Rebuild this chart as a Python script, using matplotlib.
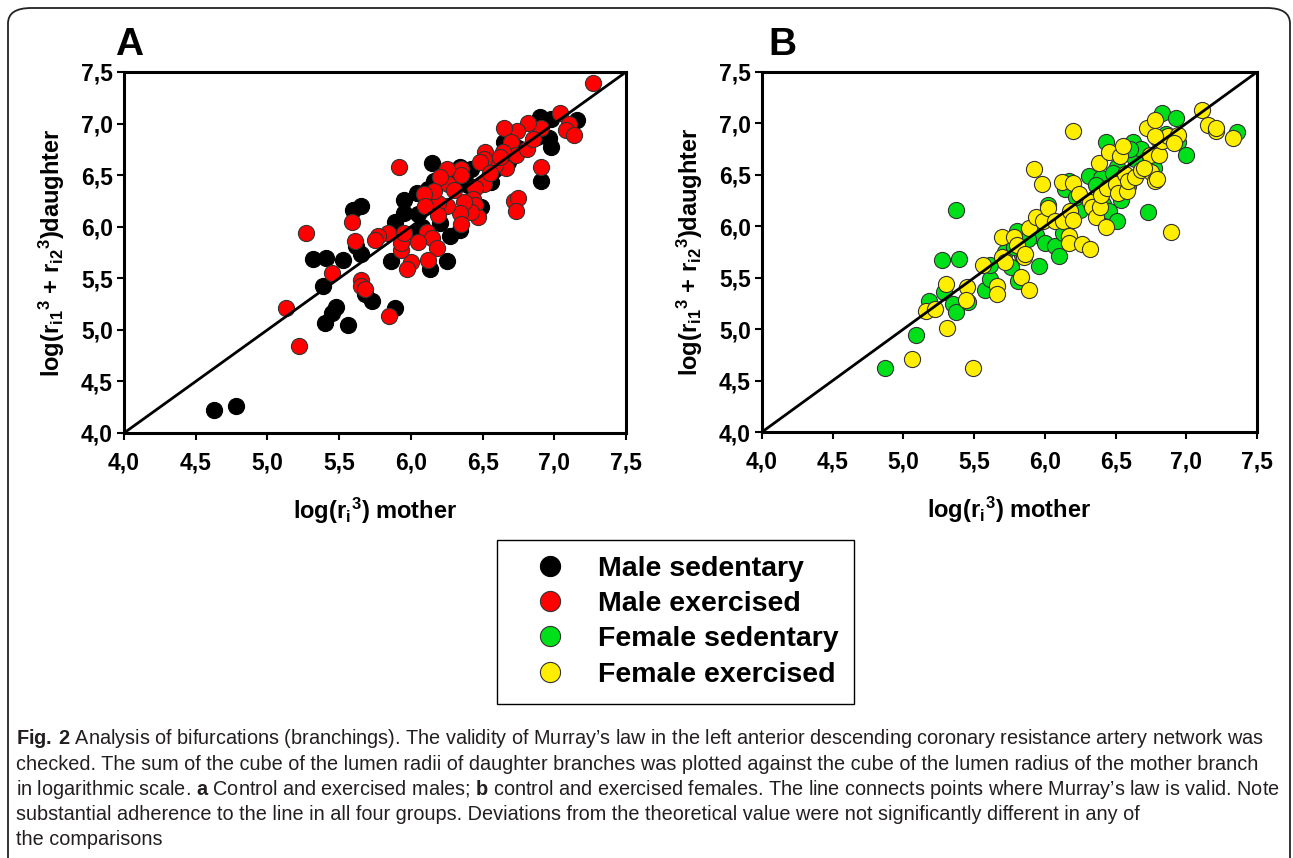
import matplotlib
matplotlib.use("Agg")
import matplotlib.pyplot as plt
from matplotlib.lines import Line2D
from matplotlib.patches import FancyBboxPatch
from matplotlib.ticker import FixedLocator, FuncFormatter

# panel A: males
male_sed_x = [4.63, 4.78, 5.32, 5.41, 5.39, 5.40, 5.45, 5.48, 5.56, 5.53, 5.60, 5.65, 5.62, 5.65,
              5.68, 5.73, 5.86, 5.89, 5.89, 5.95, 5.95, 6.03, 6.04, 6.05, 6.12, 6.13, 6.15, 6.20,
              6.16, 6.27, 6.25, 6.32, 6.34, 6.34, 6.42, 6.49, 6.56, 6.65, 6.68, 6.75, 6.90, 6.88,
              6.91, 6.98, 6.98, 6.96, 7.16, 6.08, 6.40, 6.58]
male_sed_y = [4.22, 4.26, 5.69, 5.70, 5.43, 5.07, 5.16, 5.22, 5.05, 5.68, 6.16, 6.20, 5.81, 5.74,
              5.35, 5.28, 5.67, 5.21, 6.05, 6.13, 6.26, 5.94, 6.33, 6.12, 6.37, 5.59, 6.62, 6.04,
              6.44, 5.91, 5.67, 6.50, 5.97, 6.58, 6.56, 6.19, 6.43, 6.82, 6.63, 6.76, 7.06, 6.87,
              6.44, 7.04, 6.77, 6.86, 7.03, 6.00, 6.40, 6.55]

male_ex_x = [7.27, 7.04, 7.10, 7.08, 7.14, 6.91, 6.82, 6.74, 6.65, 6.66, 6.70, 6.73, 6.81, 6.85,
             6.91, 6.72, 6.75, 6.73, 6.64, 6.59, 6.52, 6.51, 6.48, 6.51, 6.45, 6.43, 6.45, 6.47,
             6.42, 6.35, 6.35, 6.37, 6.34, 6.35, 6.25, 6.26, 6.25, 6.20, 6.19, 6.19, 6.16, 6.09,
             6.10, 6.11, 6.15, 6.18, 6.12, 6.05, 6.00, 5.97, 5.93, 5.93, 5.95, 5.92, 5.84, 5.77,
             5.75, 5.85, 5.65, 5.65, 5.68, 5.61, 5.59, 5.45, 5.27, 5.13, 5.22, 6.30, 6.55, 6.62]
male_ex_y = [7.39, 7.10, 7.00, 6.94, 6.89, 6.96, 7.01, 6.93, 6.96, 6.57, 6.82, 6.70, 6.75, 6.85,
             6.58, 6.25, 6.28, 6.15, 6.72, 6.60, 6.72, 6.66, 6.63, 6.41, 6.38, 6.27, 6.21, 6.09,
             6.14, 6.56, 6.50, 6.24, 6.13, 6.03, 6.56, 6.41, 6.20, 6.48, 6.23, 6.11, 6.35, 6.32,
             6.20, 5.95, 5.89, 5.79, 5.68, 5.85, 5.66, 5.59, 5.77, 5.84, 5.94, 6.58, 5.94, 5.91,
             5.87, 5.13, 5.48, 5.43, 5.40, 5.86, 6.05, 5.55, 5.94, 5.21, 4.84, 6.36, 6.52, 6.68]

# panel B: females
fem_sed_x = [4.87, 5.09, 5.18, 5.27, 5.39, 5.37, 5.29, 5.35, 5.37, 5.46, 5.58, 5.61, 5.61, 5.72,
             5.76, 5.81, 5.80, 5.84, 5.96, 5.94, 6.00, 6.02, 6.07, 6.10, 6.13, 6.16, 6.17, 6.14,
             6.25, 6.31, 6.40, 6.41, 6.45, 6.43, 6.51, 6.54, 6.51, 6.59, 6.62, 6.64, 6.68, 6.74,
             6.73, 6.75, 6.80, 6.83, 6.93, 6.94, 7.00, 7.36, 6.77, 6.60, 6.86, 5.78, 5.88, 6.22,
             6.36, 6.48]
fem_sed_y = [4.62, 4.94, 5.27, 5.67, 5.68, 6.16, 5.36, 5.24, 5.17, 5.26, 5.38, 5.49, 5.62, 5.75,
             5.60, 5.47, 5.95, 5.72, 5.61, 5.92, 5.84, 6.21, 5.81, 5.71, 5.93, 6.05, 6.44, 6.36,
             6.16, 6.49, 6.47, 6.22, 6.15, 6.82, 6.05, 6.26, 6.58, 6.39, 6.82, 6.65, 6.75, 6.68,
             6.14, 6.62, 6.85, 7.10, 7.05, 6.82, 6.69, 6.92, 6.57, 6.75, 6.90, 5.80, 5.88, 6.28,
             6.40, 6.52]

fem_ex_x = [5.06, 5.49, 5.31, 5.16, 5.22, 5.30, 5.45, 5.44, 5.56, 5.66, 5.66, 5.70, 5.70, 5.72,
            5.78, 5.80, 5.83, 5.85, 5.86, 5.89, 5.89, 5.92, 5.98, 5.94, 5.99, 6.02, 6.07, 6.12,
            6.13, 6.17, 6.17, 6.18, 6.20, 6.20, 6.20, 6.24, 6.26, 6.32, 6.32, 6.33, 6.36, 6.38,
            6.39, 6.40, 6.43, 6.44, 6.45, 6.50, 6.52, 6.53, 6.55, 6.57, 6.58, 6.59, 6.64, 6.68,
            6.72, 6.74, 6.75, 6.78, 6.79, 6.78, 6.81, 6.83, 6.87, 6.89, 6.94, 6.91, 7.11, 7.15,
            7.21, 7.21, 7.33, 6.78, 6.70]
fem_ex_y = [4.71, 4.62, 5.01, 5.18, 5.20, 5.44, 5.41, 5.28, 5.62, 5.42, 5.34, 5.90, 5.70, 5.65,
            5.90, 5.82, 5.51, 5.70, 5.73, 5.38, 5.98, 6.56, 6.41, 6.09, 6.05, 6.18, 6.05, 6.43,
            6.05, 5.91, 5.84, 6.15, 6.06, 6.93, 6.42, 6.31, 5.83, 5.78, 6.24, 6.19, 6.09, 6.62,
            6.19, 6.30, 5.99, 6.37, 6.72, 6.41, 6.32, 6.68, 6.78, 6.51, 6.34, 6.44, 6.48, 6.55,
            6.96, 6.69, 6.53, 6.44, 6.46, 7.03, 6.69, 6.83, 6.88, 5.94, 6.89, 6.81, 7.13, 6.98,
            6.93, 6.96, 6.86, 6.88, 6.57]

ticks = [4.0, 4.5, 5.0, 5.5, 6.0, 6.5, 7.0, 7.5]
labels = ["Male sedentary", "Male exercised", "Female sedentary", "Female exercised"]
colors = ["#000000", "#ff0000", "#00e01a", "#ffee00"]

caption = [
    r"$\mathbf{Fig.\,2}$ Analysis of bifurcations (branchings). The validity of Murray’s law in the left anterior descending coronary resistance artery network was",
    "checked. The sum of the cube of the lumen radii of daughter branches was plotted against the cube of the lumen radius of the mother branch",
    r"in logarithmic scale. $\mathbf{a}$ Control and exercised males; $\mathbf{b}$ control and exercised females. The line connects points where Murray’s law is valid. Note",
    "substantial adherence to the line in all four groups. Deviations from the theoretical value were not significantly different in any of",
    "the comparisons",
]

plt.rcParams["font.family"] = ["Liberation Sans", "DejaVu Sans"]
plt.rcParams["mathtext.default"] = "regular"
plt.rcParams["mathtext.fontset"] = "custom"
plt.rcParams["mathtext.bf"] = "Liberation Sans:bold"
plt.rcParams["mathtext.rm"] = "Liberation Sans"

W, H = 1293, 858
fig = plt.figure(figsize=(W / 100, H / 100), dpi=100)

# outer rounded frame
frame = FancyBboxPatch((8 / W, -0.05), 1282 / W, 1 - 8 / H + 0.05,
                       boxstyle="round,pad=0,rounding_size=0.018",
                       transform=fig.transFigure, fill=False, lw=1.3, ec="#222222")
fig.patches.append(frame)


def panel(rect, letter, lx, groups):
    ax = fig.add_axes(rect)
    for x, y, c, ec in groups:
        ax.scatter(x, y, s=135, c=c, edgecolors=ec, linewidths=0.8, zorder=2)
    ax.plot([4.0, 7.5], [4.0, 7.5], color="black", lw=2, zorder=3)
    ax.set_xlim(4.0, 7.5)
    ax.set_ylim(4.0, 7.5)
    ax.xaxis.set_major_locator(FixedLocator(ticks))
    ax.yaxis.set_major_locator(FixedLocator(ticks))
    fmt = FuncFormatter(lambda v, p: f"{v:.1f}".replace(".", ","))
    ax.xaxis.set_major_formatter(fmt)
    ax.yaxis.set_major_formatter(fmt)
    ax.tick_params(direction="out", length=5, width=1.5, labelsize=16.5)
    ax.tick_params(axis="x", pad=8)
    ax.tick_params(axis="y", pad=3)
    for lab in ax.get_xticklabels() + ax.get_yticklabels():
        lab.set_fontweight("bold")
    for sp in ax.spines.values():
        sp.set_linewidth(2.2)
    ax.set_xlabel("log(r$_{i}$$^{3}$) mother", fontsize=17, fontweight="bold", labelpad=16)
    ax.set_ylabel("log(r$_{i1}$$^{3}$ + r$_{i2}$$^{3}$)daughter", fontsize=17,
                  fontweight="bold", labelpad=10)
    ax.text(lx, 1.025, letter, transform=ax.transAxes, fontsize=28, fontweight="bold",
            ha="left", va="bottom")
    return ax


panel([124 / W, 1 - 433 / H, 502 / W, 361 / H], "A", -0.018,
      [(male_sed_x, male_sed_y, colors[0], "black"),
       (male_ex_x, male_ex_y, colors[1], "#333333")])
panel([762 / W, 1 - 432 / H, 495 / W, 360 / H], "B", 0.012,
      [(fem_sed_x, fem_sed_y, colors[2], "#333333"),
       (fem_ex_x, fem_ex_y, colors[3], "#333333")])

handles = [Line2D([], [], ls="none", marker="o", ms=14.5, mfc=c,
                  mec="black" if i == 0 else "#333333", mew=0.8)
           for i, c in enumerate(colors)]
leg = fig.legend(handles, labels, loc="upper left", bbox_to_anchor=(497 / W, 1 - 540 / H),
                 frameon=True, fancybox=False, edgecolor="black", framealpha=1,
                 prop={"family": "Liberation Sans", "weight": "bold", "size": 20.5},
                 borderpad=0.55, labelspacing=0.33, handlelength=2.6, handletextpad=0.4,
                 borderaxespad=0)
leg.get_frame().set_linewidth(1.0)

for i, line in enumerate(caption):
    fig.text(16 / W, 1 - (739 + 25.2 * i) / H, line, fontsize=14.3, color="#231f20",
             ha="left", va="center")

fig.savefig("out.png", dpi=100)
